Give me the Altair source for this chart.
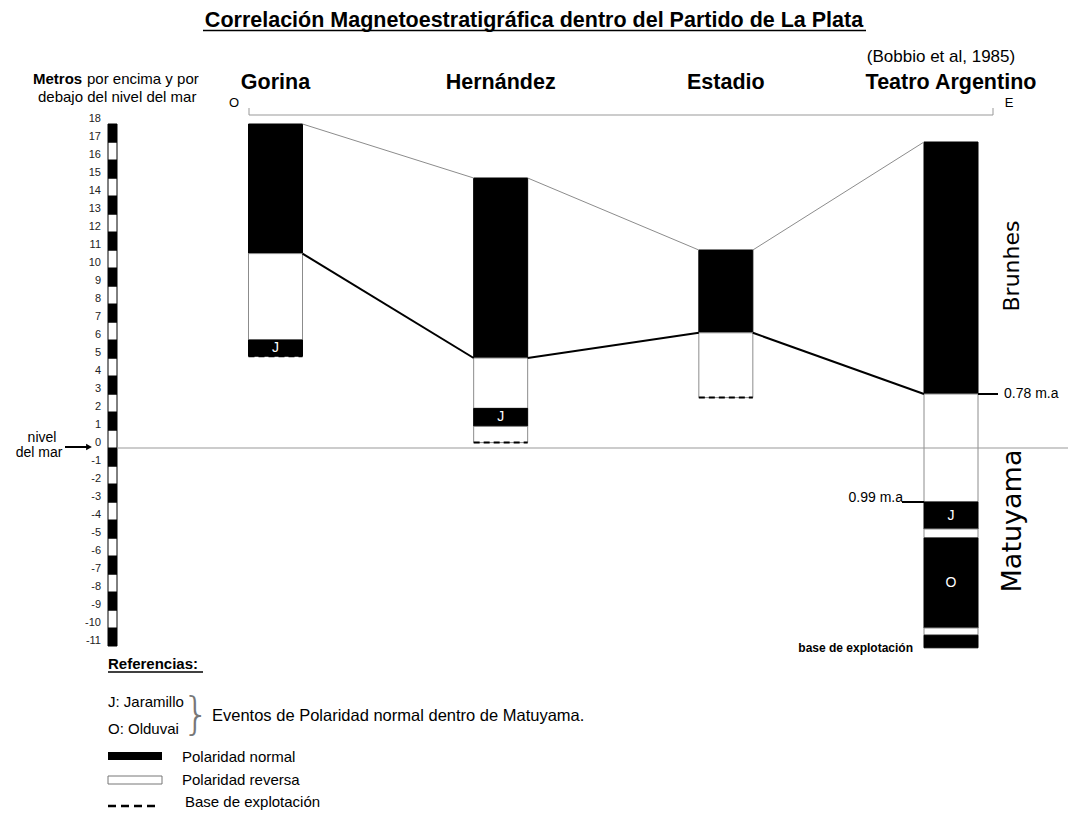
import altair as alt
import pandas as pd

FONT = "Liberation Sans"

# Sections along the W-E profile
sites = ["Gorina", "Hernández", "Estadio", "Teatro Argentino"]

# Polarity intervals of every section, metres relative to sea level
seg_site = (["Gorina"] * 3 + ["Hernández"] * 4 + ["Estadio"] * 2
            + ["Teatro Argentino"] * 7)
seg_top = [18.0, 10.8, 6.0,
           15.0, 5.0, 2.2, 1.2,
           11.0, 6.4,
           17.0, 3.0, -3.0, -4.5, -5.0, -10.0, -10.4]
seg_base = [10.8, 6.0, 5.1,
            5.0, 2.2, 1.2, 0.3,
            6.4, 2.8,
            3.0, -3.0, -4.5, -5.0, -10.0, -10.4, -11.1]
seg_pol = ["N", "R", "N",
           "N", "R", "N", "R",
           "N", "R",
           "N", "R", "N", "R", "N", "R", "N"]
seg_label = ["", "", "J",
             "", "", "J", "",
             "", "",
             "", "", "J", "", "O", "", ""]

# Top of each section and depth of the Brunhes/Matuyama boundary
col_top = [18.0, 15.0, 11.0, 17.0]
col_bm = [10.8, 5.0, 6.4, 3.0]

# Base of quarrying in the three shallower sections
base_site = ["Gorina", "Hernández", "Estadio"]
base_depth = [5.1, 0.3, 2.8]
teatro_base = -11.1

# Ages of the reversal markers in Teatro Argentino
age_text = ["0.78 m.a", "0.99 m.a"]
age_depth = [3.0, -3.0]

# Metre scale on the left
escala_low = [-11, -10, -9, -8, -7, -6, -5, -4, -3, -2, -1, 0, 1, 2, 3,
              4, 5, 6, 7, 8, 9, 10, 11, 12, 13, 14, 15, 16, 17]
escala_pol = ["N", "R", "N", "R", "N", "R", "N", "R", "N", "R", "N", "R",
              "N", "R", "N", "R", "N", "R", "N", "R", "N", "R", "N", "R",
              "N", "R", "N", "R", "N"]
escala_ticks = [18, 17, 16, 15, 14, 13, 12, 11, 10, 9, 8, 7, 6, 5, 4, 3, 2,
                1, 0, -1, -2, -3, -4, -5, -6, -7, -8, -9, -10, -11]

# ---------------------------------------------------------------- layout
W, H = 1068, 817
SEA_PX = 448
PX_PER_M = 18
HALF = 27

y_scale = alt.Scale(domain=[-(H - SEA_PX) / PX_PER_M, SEA_PX / PX_PER_M],
                    nice=False, zero=False)
x_scale = alt.Scale(type="point", domain=sites, range=[275.5, 951], padding=0)
pol_fill = alt.Scale(domain=["N", "R"], range=["black", "white"])


def X(field):
    return alt.X(field, type="nominal", scale=x_scale, axis=None)


def Y(field):
    return alt.Y(field, type="quantitative", scale=y_scale, axis=None)


def note(text, x, y, size=14, weight="normal", align="left",
         baseline="middle", angle=0, color="black", font=FONT):
    mk = dict(text=text, fontSize=size, fontWeight=weight, align=align,
              baseline=baseline, color=color, font=font)
    if angle:
        mk["angle"] = angle
    return alt.Chart(alt.Data(values=[{}])).mark_text(**mk).encode(
        x=alt.value(x), y=alt.value(y))


def line(x1, x2, y1, y2, color="black", width=1, dash=None):
    mk = dict(color=color, strokeWidth=width)
    if dash:
        mk["strokeDash"] = dash
    return alt.Chart(alt.Data(values=[{}])).mark_rule(**mk).encode(
        x=alt.value(x1), x2=alt.value(x2), y=alt.value(y1), y2=alt.value(y2))


seg_df = pd.DataFrame({"site": seg_site, "top": seg_top, "base": seg_base,
                       "pol": seg_pol, "label": seg_label})
link_df = pd.DataFrame({"a": sites[:-1], "b": sites[1:],
                        "top_a": col_top[:-1], "top_b": col_top[1:],
                        "bm_a": col_bm[:-1], "bm_b": col_bm[1:]})
base_df = pd.DataFrame({"site": base_site, "depth": base_depth})
esc_df = pd.DataFrame({"low": escala_low, "pol": escala_pol})
esc_df["high"] = esc_df["low"] + 1
tick_df = pd.DataFrame({"v": escala_ticks,
                        "lbl": [str(v) for v in escala_ticks]})
head_df = pd.DataFrame({"site": sites})

# metre scale bar and its labels
escala = alt.Chart(esc_df).mark_rect(stroke="black", strokeWidth=1).encode(
    x=alt.value(108), x2=alt.value(117), y=Y("low"), y2="high",
    fill=alt.Fill("pol:N", scale=pol_fill, legend=None))
ticks = alt.Chart(tick_df).mark_text(
    align="right", baseline="middle", fontSize=11, dy=-5, font=FONT,
    color="#222").encode(x=alt.value(101), y=Y("v"), text="lbl:N")

# sea level
sea = alt.Chart(alt.Data(values=[{"z": 0}])).mark_rule(
    color="#999", strokeWidth=1).encode(
    x=alt.value(117), x2=alt.value(W), y=Y("z"))

# sections
bars = alt.Chart(seg_df).mark_bar(size=2 * HALF, strokeWidth=1).encode(
    x=X("site"), y=Y("top"), y2="base",
    fill=alt.Fill("pol:N", scale=pol_fill, legend=None),
    stroke=alt.Stroke("pol:N", scale=alt.Scale(domain=["N", "R"],
                      range=["black", "#8c8c8c"]), legend=None))
events = alt.Chart(seg_df).transform_filter("datum.label != ''").transform_calculate(
    mid="(datum.top + datum.base) / 2").mark_text(
    color="white", fontSize=14, baseline="middle", font=FONT).encode(
    x=X("site"), y=Y("mid"), text="label:N")

top_links = alt.Chart(link_df).mark_rule(
    color="#8c8c8c", strokeWidth=1, xOffset=HALF, x2Offset=-HALF).encode(
    x=X("a"), x2="b", y=Y("top_a"), y2="top_b")
bm_links = alt.Chart(link_df).mark_rule(
    color="black", strokeWidth=2, xOffset=HALF, x2Offset=-HALF).encode(
    x=X("a"), x2="b", y=Y("bm_a"), y2="bm_b")

bases = alt.Chart(base_df).mark_rule(
    color="black", strokeWidth=2, strokeDash=[6, 4],
    xOffset=-HALF, x2Offset=HALF).encode(x=X("site"), x2="site", y=Y("depth"))

age_df = pd.DataFrame({"site": [sites[-1]] * 2, "d": age_depth, "t": age_text})
age_078 = alt.Chart(age_df.iloc[[0]]).mark_rule(
    color="black", strokeWidth=2, xOffset=HALF, x2Offset=HALF + 20).encode(
    x=X("site"), x2="site", y=Y("d"))
age_078_t = alt.Chart(age_df.iloc[[0]]).mark_text(
    align="left", baseline="middle", fontSize=14, font=FONT).encode(
    x=alt.value(1004), y=Y("d"), text="t:N")
age_099 = alt.Chart(age_df.iloc[[1]]).mark_rule(
    color="black", strokeWidth=2, xOffset=-HALF - 22, x2Offset=-HALF).encode(
    x=X("site"), x2="site", y=Y("d"))
age_099_t = alt.Chart(age_df.iloc[[1]]).mark_text(
    align="right", baseline="bottom", fontSize=14, font=FONT, dy=3).encode(
    x=alt.value(903), y=Y("d"), text="t:N")

base_t = alt.Chart(alt.Data(values=[{"d": teatro_base}])).mark_text(
    align="right", baseline="middle", fontSize=12, fontWeight="bold",
    font=FONT, text="base de explotación").encode(x=alt.value(913), y=Y("d"))

headers = alt.Chart(head_df).mark_text(
    fontSize=21.5, fontWeight="bold", baseline="alphabetic", font=FONT).encode(
    x=X("site"), y=alt.value(89), text="site:N")

layers = [
    escala, ticks, bars, sea, events, top_links, bm_links, bases,
    age_078, age_078_t, age_099, age_099_t, base_t, headers,
    # title
    note("Correlación Magnetoestratigráfica dentro del Partido de La Plata",
         534, 27, size=21.5, weight="bold", align="center",
         baseline="alphabetic"),
    line(203, 866, 30.5, 30.5, width=1.5),
    note("(Bobbio et al, 1985)", 941, 57, size=17, align="center"),
    # axis caption
    note("Metros", 33, 79, size=15, weight="bold"),
    note("por encima y por", 87, 79, size=15),
    note("debajo del nivel del mar", 38, 97, size=15),
    # W-E bracket
    note("O", 234, 103, size=13, align="center"),
    note("E", 1009, 103, size=13, align="center"),
    line(249, 993, 115, 115, color="#999"),
    line(249, 249, 108, 115, color="#999"),
    line(993, 993, 108, 115, color="#999"),
    # sea level pointer
    note("nivel", 42, 438, size=14, align="center"),
    note("del mar", 39, 453, size=14, align="center"),
    line(65, 87, 447, 447, width=2),
    alt.Chart(alt.Data(values=[{}])).mark_point(
        shape="triangle-right", filled=True, color="black", size=45,
        opacity=1).encode(x=alt.value(89), y=alt.value(447)),
    # chrons
    note("Brunhes", 1012, 266, size=22, align="center", angle=270,
         font="DejaVu Sans"),
    note("Matuyama", 1013, 521, size=27, align="center", angle=270,
         font="DejaVu Sans"),
    # references
    note("Referencias:", 108, 664, size=15, weight="bold"),
    line(108, 203, 672, 672, width=1.5),
    note("J: Jaramillo", 108, 702, size=15),
    note("O: Olduvai", 108, 729, size=15),
    note("}", 196, 716, size=44, align="center", color="#777",
         weight=200, font="DejaVu Sans"),
    note("Eventos de Polaridad normal dentro de Matuyama.", 212, 716,
         size=16.5),
    alt.Chart(alt.Data(values=[{}])).mark_rect(color="black").encode(
        x=alt.value(108), x2=alt.value(162), y=alt.value(752), y2=alt.value(760)),
    note("Polaridad normal", 182, 757, size=15),
    alt.Chart(alt.Data(values=[{}])).mark_rect(
        fill="white", stroke="#777", strokeWidth=1).encode(
        x=alt.value(108), x2=alt.value(162), y=alt.value(776), y2=alt.value(784)),
    note("Polaridad reversa", 182, 780, size=15),
    line(108, 160, 806, 806, width=2.5, dash=[8, 5]),
    note("Base de explotación", 185, 802, size=15),
]

chart = alt.layer(*layers).properties(
    width=W, height=H, padding=0,
    autosize=alt.AutoSizeParams(type="none"),
).configure_view(stroke=None)

chart.save("out.html", embed_options={"renderer": "svg", "actions": False})
